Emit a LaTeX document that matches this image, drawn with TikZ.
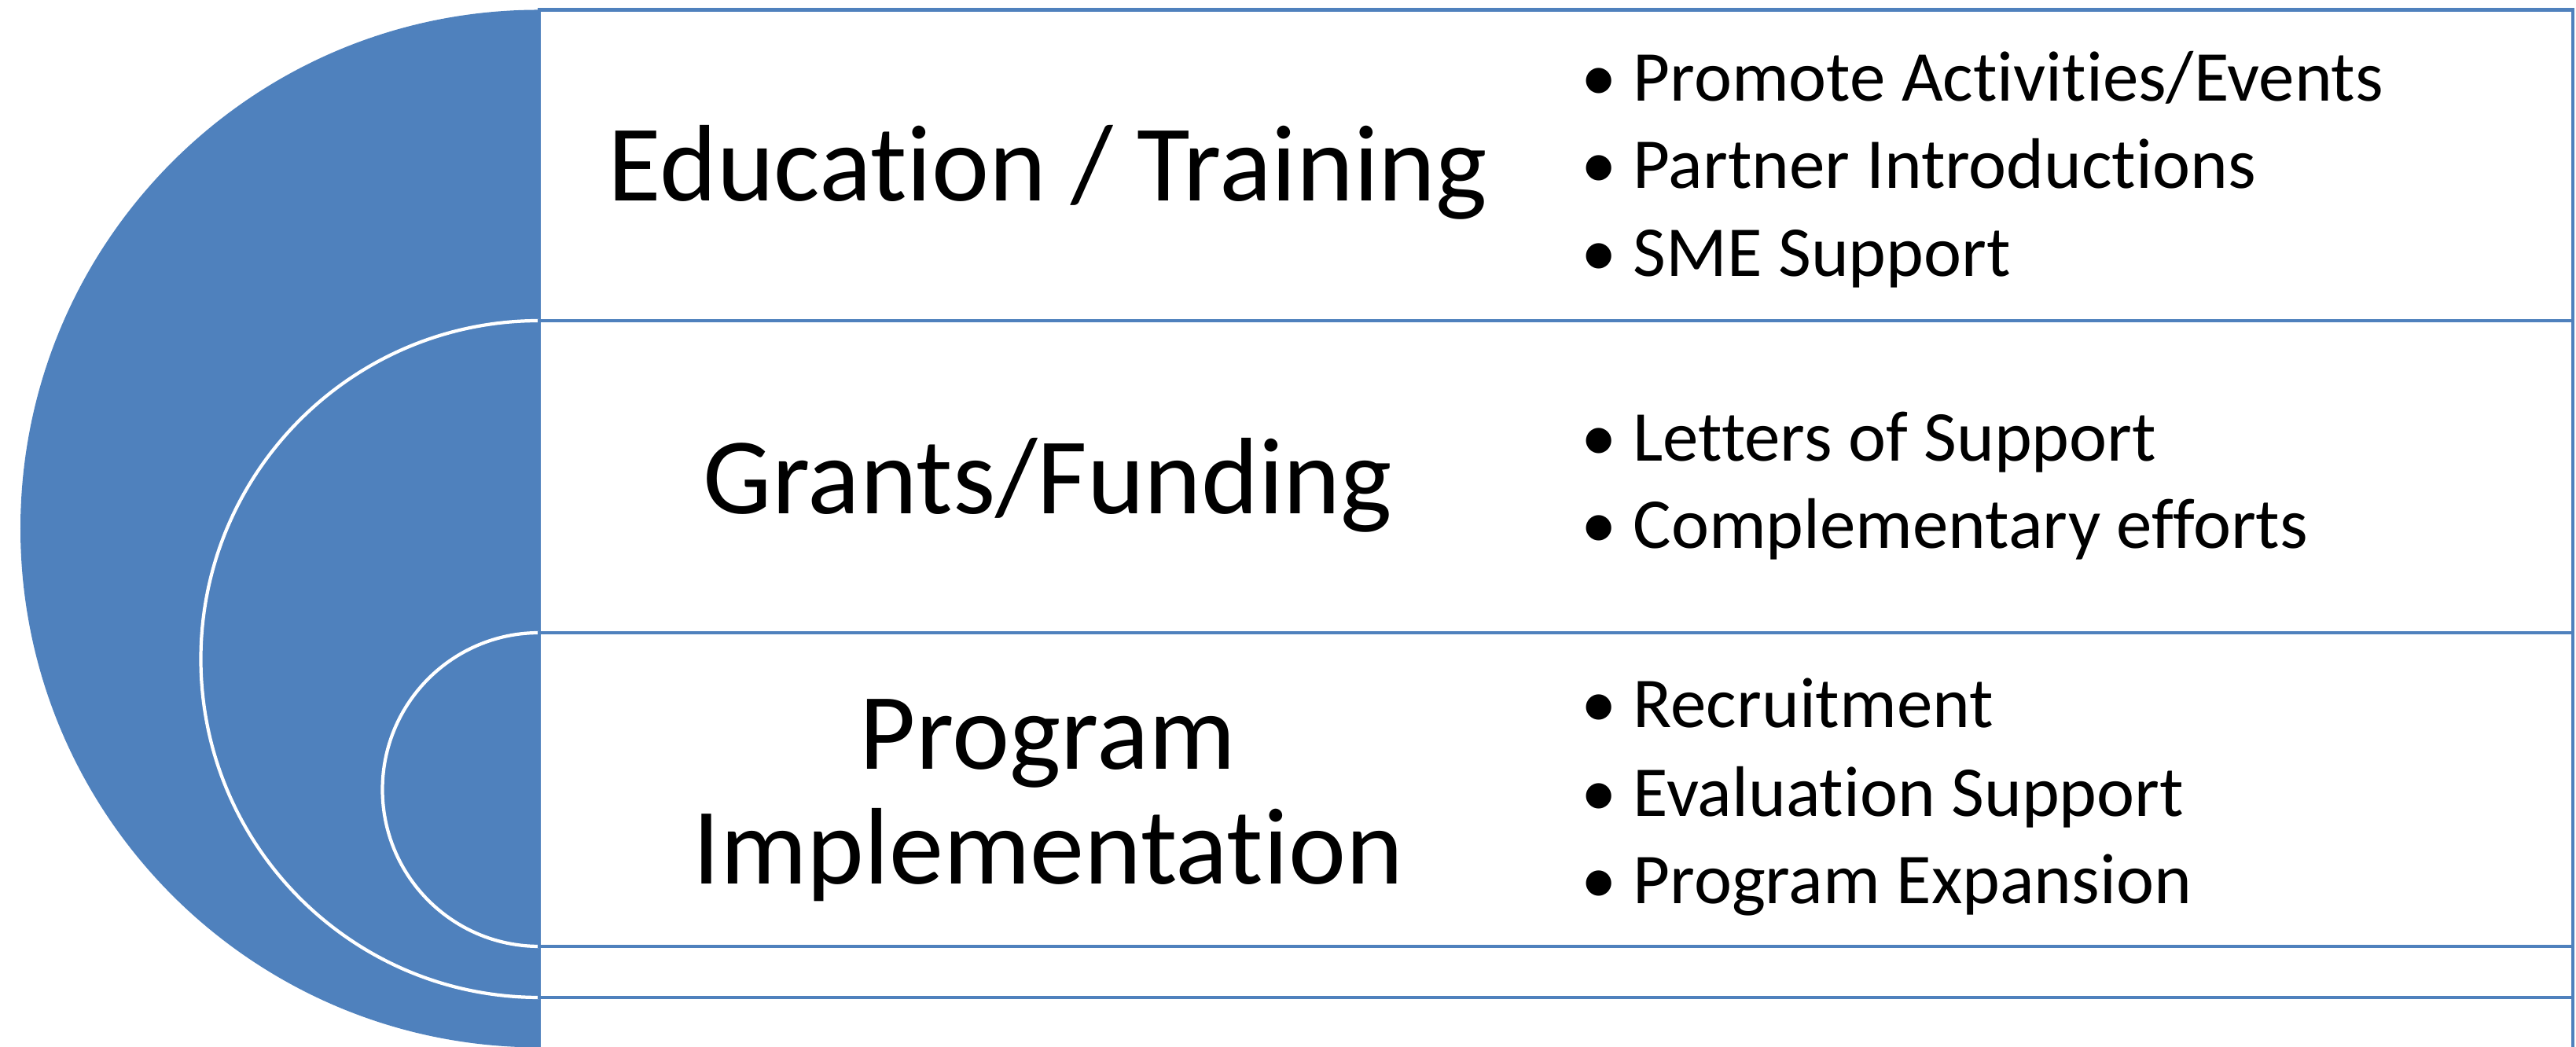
\documentclass[tikz,border=0pt]{standalone}
\usepackage{fontspec}
\setmainfont{Carlito}[Ligatures=NoCommon]
\definecolor{obl}{HTML}{4F81BD}
\tikzset{
  disc/.style={fill=obl, draw=white, line width=1.2pt},
  band/.style={fill=white, draw=obl, line width=1.3pt},
  ttl/.style={anchor=base, inner sep=0pt, font=\fontsize{39.4}{42}\selectfont, align=center},
  itm/.style={anchor=base west, inner sep=0pt, font=\fontsize{25.9}{30}\selectfont}
}
\newcommand{\bul}[1]{\makebox[0.66cm][l]{•}#1}
\begin{document}
\begin{tikzpicture}
\useasboundingbox (0,0) rectangle (32.77,13.32);
% outer level
\fill[obl] (6.86,13.195) arc[start angle=90,end angle=270,radius=6.60] -- cycle;
\draw[band] (6.86,-0.02) rectangle (32.73,13.195);
% middle level
\draw[disc] (6.86,9.24) arc[start angle=90,end angle=270,radius=4.305];
\draw[band] (6.86,0.63) rectangle (32.73,9.24);
% inner level
\draw[disc] (6.86,5.27) arc[start angle=90,end angle=270,radius=1.995];
\draw[band] (6.86,1.28) rectangle (32.73,5.27);
% titles
\node[ttl] (t1) at (13.33,10.76) {Education / Training};
\node[ttl] (t2) at (13.33,6.78) {Grants/Funding};
\node[ttl] (t3a) at (13.33,3.53) {Program};
\node[ttl] (t3b) at (13.33,2.07) {Implementation};
% bullets
\node[itm] (b11) at (20.11,12.03) {\bul{Promote Activities/Events}};
\node[itm] (b12) at (20.11,10.92) {\bul{Partner Introductions}};
\node[itm] (b13) at (20.11,9.80) {\bul{SME Support}};
\node[itm] (b21) at (20.11,7.45) {\bul{Letters of Support}};
\node[itm] (b22) at (20.11,6.34) {\bul{Complementary efforts}};
\node[itm] (b31) at (20.11,4.06) {\bul{Recruitment}};
\node[itm] (b32) at (20.11,2.93) {\bul{Evaluation Support}};
\node[itm] (b33) at (20.11,1.82) {\bul{Program Expansion}};
\end{tikzpicture}
\end{document}
